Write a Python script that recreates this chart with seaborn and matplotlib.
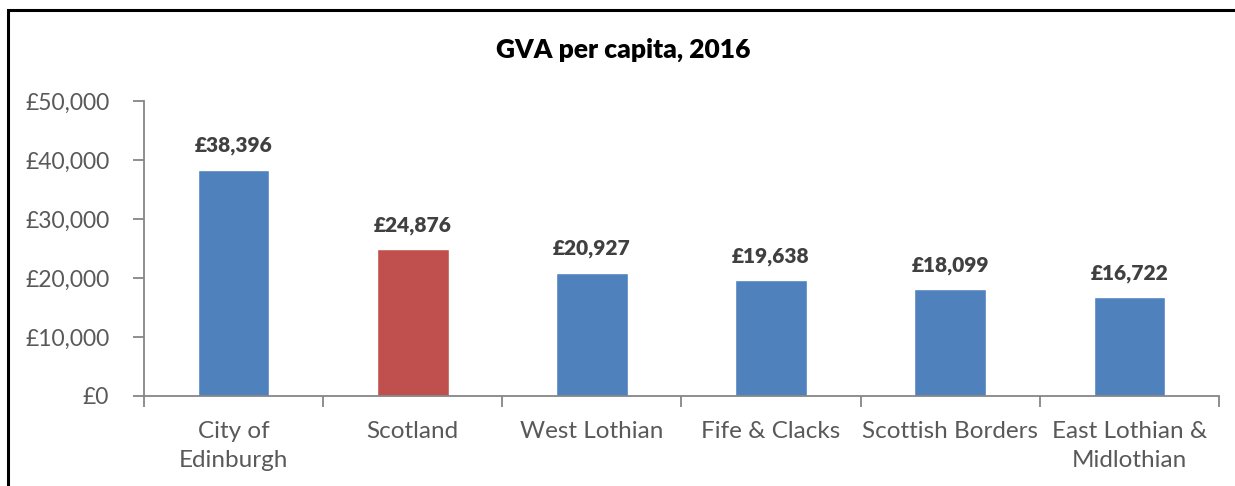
import numpy as np
import pandas as pd
import matplotlib
matplotlib.use('Agg')
import matplotlib.pyplot as plt
import seaborn as sns
from matplotlib.patches import Rectangle
from matplotlib.ticker import FuncFormatter, MultipleLocator

AREAS = ['City of\nEdinburgh', 'Scotland', 'West Lothian', 'Fife & Clacks',
         'Scottish Borders', 'East Lothian &\nMidlothian']
GVA = [38396, 24876, 20927, 19638, 18099, 16722]
COLOURS = ['#4F81BD', '#C0504D', '#4F81BD', '#4F81BD', '#4F81BD', '#4F81BD']

sns.set_style('white')
plt.rcParams['font.family'] = ['Lato', 'DejaVu Sans']

df = pd.DataFrame({'Area': AREAS, 'GVA': GVA})
grey = '#595959'

fig = plt.figure(figsize=(12.35, 4.86), dpi=100)
ax = fig.add_axes([0.1166, 0.1852, 0.8704, 0.6068])
sns.barplot(data=df, x='Area', y='GVA', hue='Area', palette=COLOURS,
            legend=False, width=0.4, saturation=1, ax=ax)

for i, v in enumerate(GVA):
    ax.text(i, v + 2400, f'£{v:,}', ha='center', va='bottom',
            fontsize=15, fontweight='heavy', color='#404040')

ax.set_ylim(0, 50000)
ax.set_xlim(-0.5, len(AREAS) - 0.5)
ax.yaxis.set_major_locator(MultipleLocator(10000))
ax.yaxis.set_major_formatter(FuncFormatter(lambda v, p: f'£{v:,.0f}'))
ax.set_xlabel('')
ax.set_ylabel('')
sns.despine(ax=ax, top=True, right=True)
for s in ['left', 'bottom']:
    ax.spines[s].set_color('#868686')
    ax.spines[s].set_linewidth(1.3)

# x ticks between categories
ax.set_xticks(np.arange(-0.5, len(AREAS)), minor=False)
ax.set_xticklabels([])
ax.set_xticks(np.arange(len(AREAS)), minor=True)
ax.set_xticklabels(AREAS, minor=True, linespacing=1.45)
ax.tick_params(axis='x', which='major', direction='out', length=8, width=1.3,
               color='#868686', bottom=True)
ax.tick_params(axis='x', which='minor', length=0, pad=18, labelsize=17.5,
               labelcolor=grey)
ax.tick_params(axis='y', direction='out', length=8, width=1.3, color='#868686',
               left=True, labelsize=16.5, labelcolor=grey, pad=17)

fig.text(0.505, 0.897, 'GVA per capita, 2016', ha='center', va='center',
         fontsize=19, fontweight='heavy', color='black')

fig.patches.append(Rectangle((0.0065, -0.1), 1.2, 1.079, transform=fig.transFigure,
                             fill=False, edgecolor='black', linewidth=2.2))

fig.savefig('out.png', dpi=100)
